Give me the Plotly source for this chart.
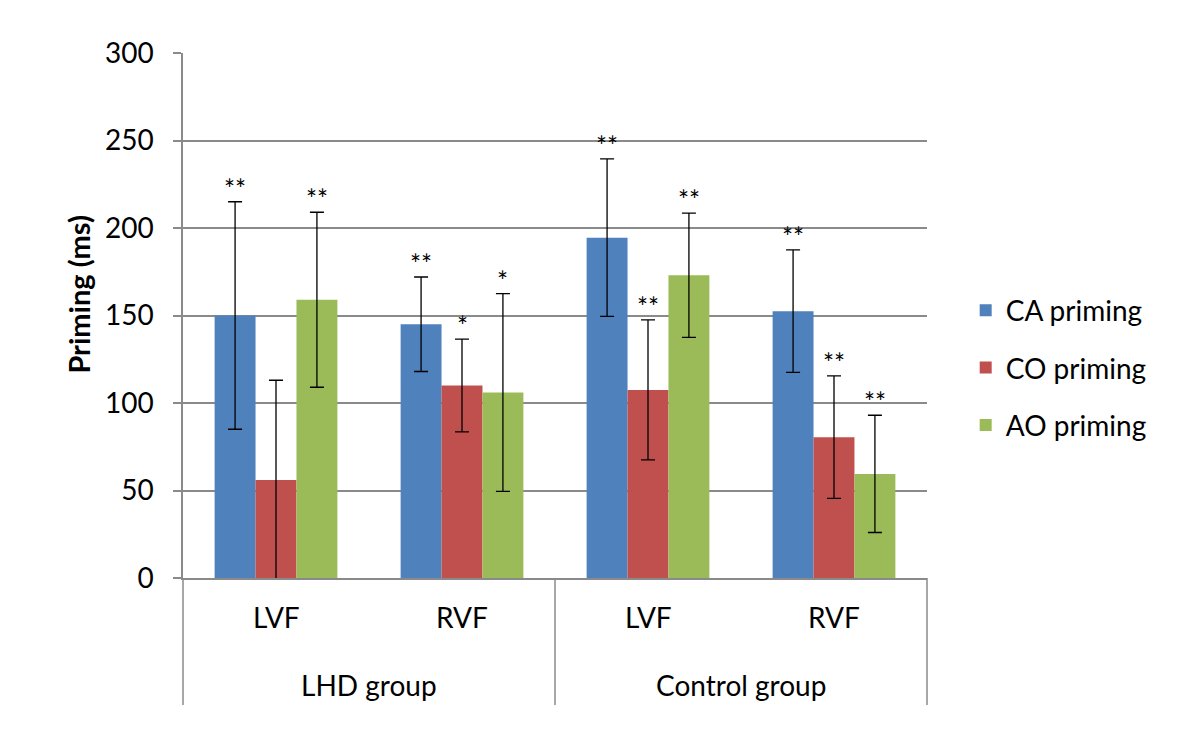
import plotly.graph_objects as go

categories = ["LVF", "RVF", "LVF", "RVF"]
groups = ["LHD group", "Control group"]
series_names = ["CA priming", "CO priming", "AO priming"]
colors = ["#4F81BD", "#C0504D", "#9BBB59"]

ca_mean = [150, 145, 194.5, 152.5]
co_mean = [56, 110, 107.5, 80.5]
ao_mean = [159, 106, 173, 59.5]

ca_err = [65, 27, 45, 35]
co_err = [57, 26.5, 40, 35]
ao_err = [50, 56.5, 35.5, 33.5]

ca_sig = ["**", "**", "**", "**"]
co_sig = ["", "*", "**", "**"]
ao_sig = ["**", "*", "**", "**"]

yticks = [0, 50, 100, 150, 200, 250, 300]

means = [ca_mean, co_mean, ao_mean]
errs = [ca_err, co_err, ao_err]
sigs = [ca_sig, co_sig, ao_sig]

FONT = "Lato"
GRID = "#8A8A8A"
bargap = 0.34
n_series = 3
xpos = list(range(len(categories)))

fig = go.Figure()
for k in range(n_series):
    fig.add_trace(go.Bar(
        x=xpos, y=means[k], name=series_names[k],
        marker=dict(color=colors[k], line=dict(width=0)),
        error_y=dict(type="data", array=errs[k], color="black", thickness=1.3, width=7),
        legendgroup=series_names[k],
    ))

# significance stars
bw = (1 - bargap) / n_series
for k in range(n_series):
    for i in xpos:
        if sigs[k][i]:
            fig.add_annotation(
                x=i + (k - (n_series - 1) / 2) * bw, y=means[k][i] + errs[k][i],
                xref="x", yref="y", text=sigs[k][i], showarrow=False,
                yanchor="bottom", yshift=-5,
                font=dict(family=FONT, size=26, color="#000000"))

# category labels
for i, c in enumerate(categories):
    fig.add_annotation(x=i, y=-0.075, xref="x", yref="paper", text=c, showarrow=False,
                       font=dict(family=FONT, size=28, color="black"), yanchor="middle")
for g, name in enumerate(groups):
    fig.add_annotation(x=2 * g + 0.5, y=-0.203, xref="x", yref="paper", text=name,
                       showarrow=False, font=dict(family=FONT, size=28, color="black"),
                       yanchor="middle")

# group divider lines
ncat = len(categories)
for b in [0, 2, 4]:
    fig.add_shape(type="line", xref="paper", yref="paper", x0=b / ncat, x1=b / ncat,
                  y0=0, y1=-0.242, line=dict(color=GRID, width=1.5))

# y axis title
fig.add_annotation(x=-0.141, y=0.54, xref="paper", yref="paper", text="<b>Priming (ms)</b>",
                   textangle=-90, showarrow=False, xanchor="center", yanchor="middle",
                   font=dict(family=FONT, size=29, color="black"))

fig.update_layout(
    width=1200, height=739,
    paper_bgcolor="white", plot_bgcolor="white",
    margin=dict(l=175, r=281, t=45, b=169),
    barmode="group", bargap=bargap, bargroupgap=0,
    font=dict(family=FONT, size=28, color="black"),
    showlegend=True,
    legend=dict(x=1.052, y=0.40, xanchor="left", yanchor="middle",
                font=dict(family=FONT, size=28, color="black"),
                tracegroupgap=18, itemclick=False),
    xaxis=dict(range=[-0.5, ncat - 0.5], showticklabels=False, showgrid=False,
               zeroline=False, showline=True, linecolor=GRID, linewidth=1.5, ticks=""),
    yaxis=dict(range=[0, 300], tickvals=yticks, showgrid=True, gridcolor=GRID, gridwidth=1.5,
               zeroline=False, showline=True, linecolor=GRID, linewidth=1.5,
               ticks="outside", ticklen=8, tickcolor=GRID, tickwidth=1.5,
               ticklabelstandoff=14, tickfont=dict(family=FONT, size=28, color="black")),
)

fig.write_html("out.html")
